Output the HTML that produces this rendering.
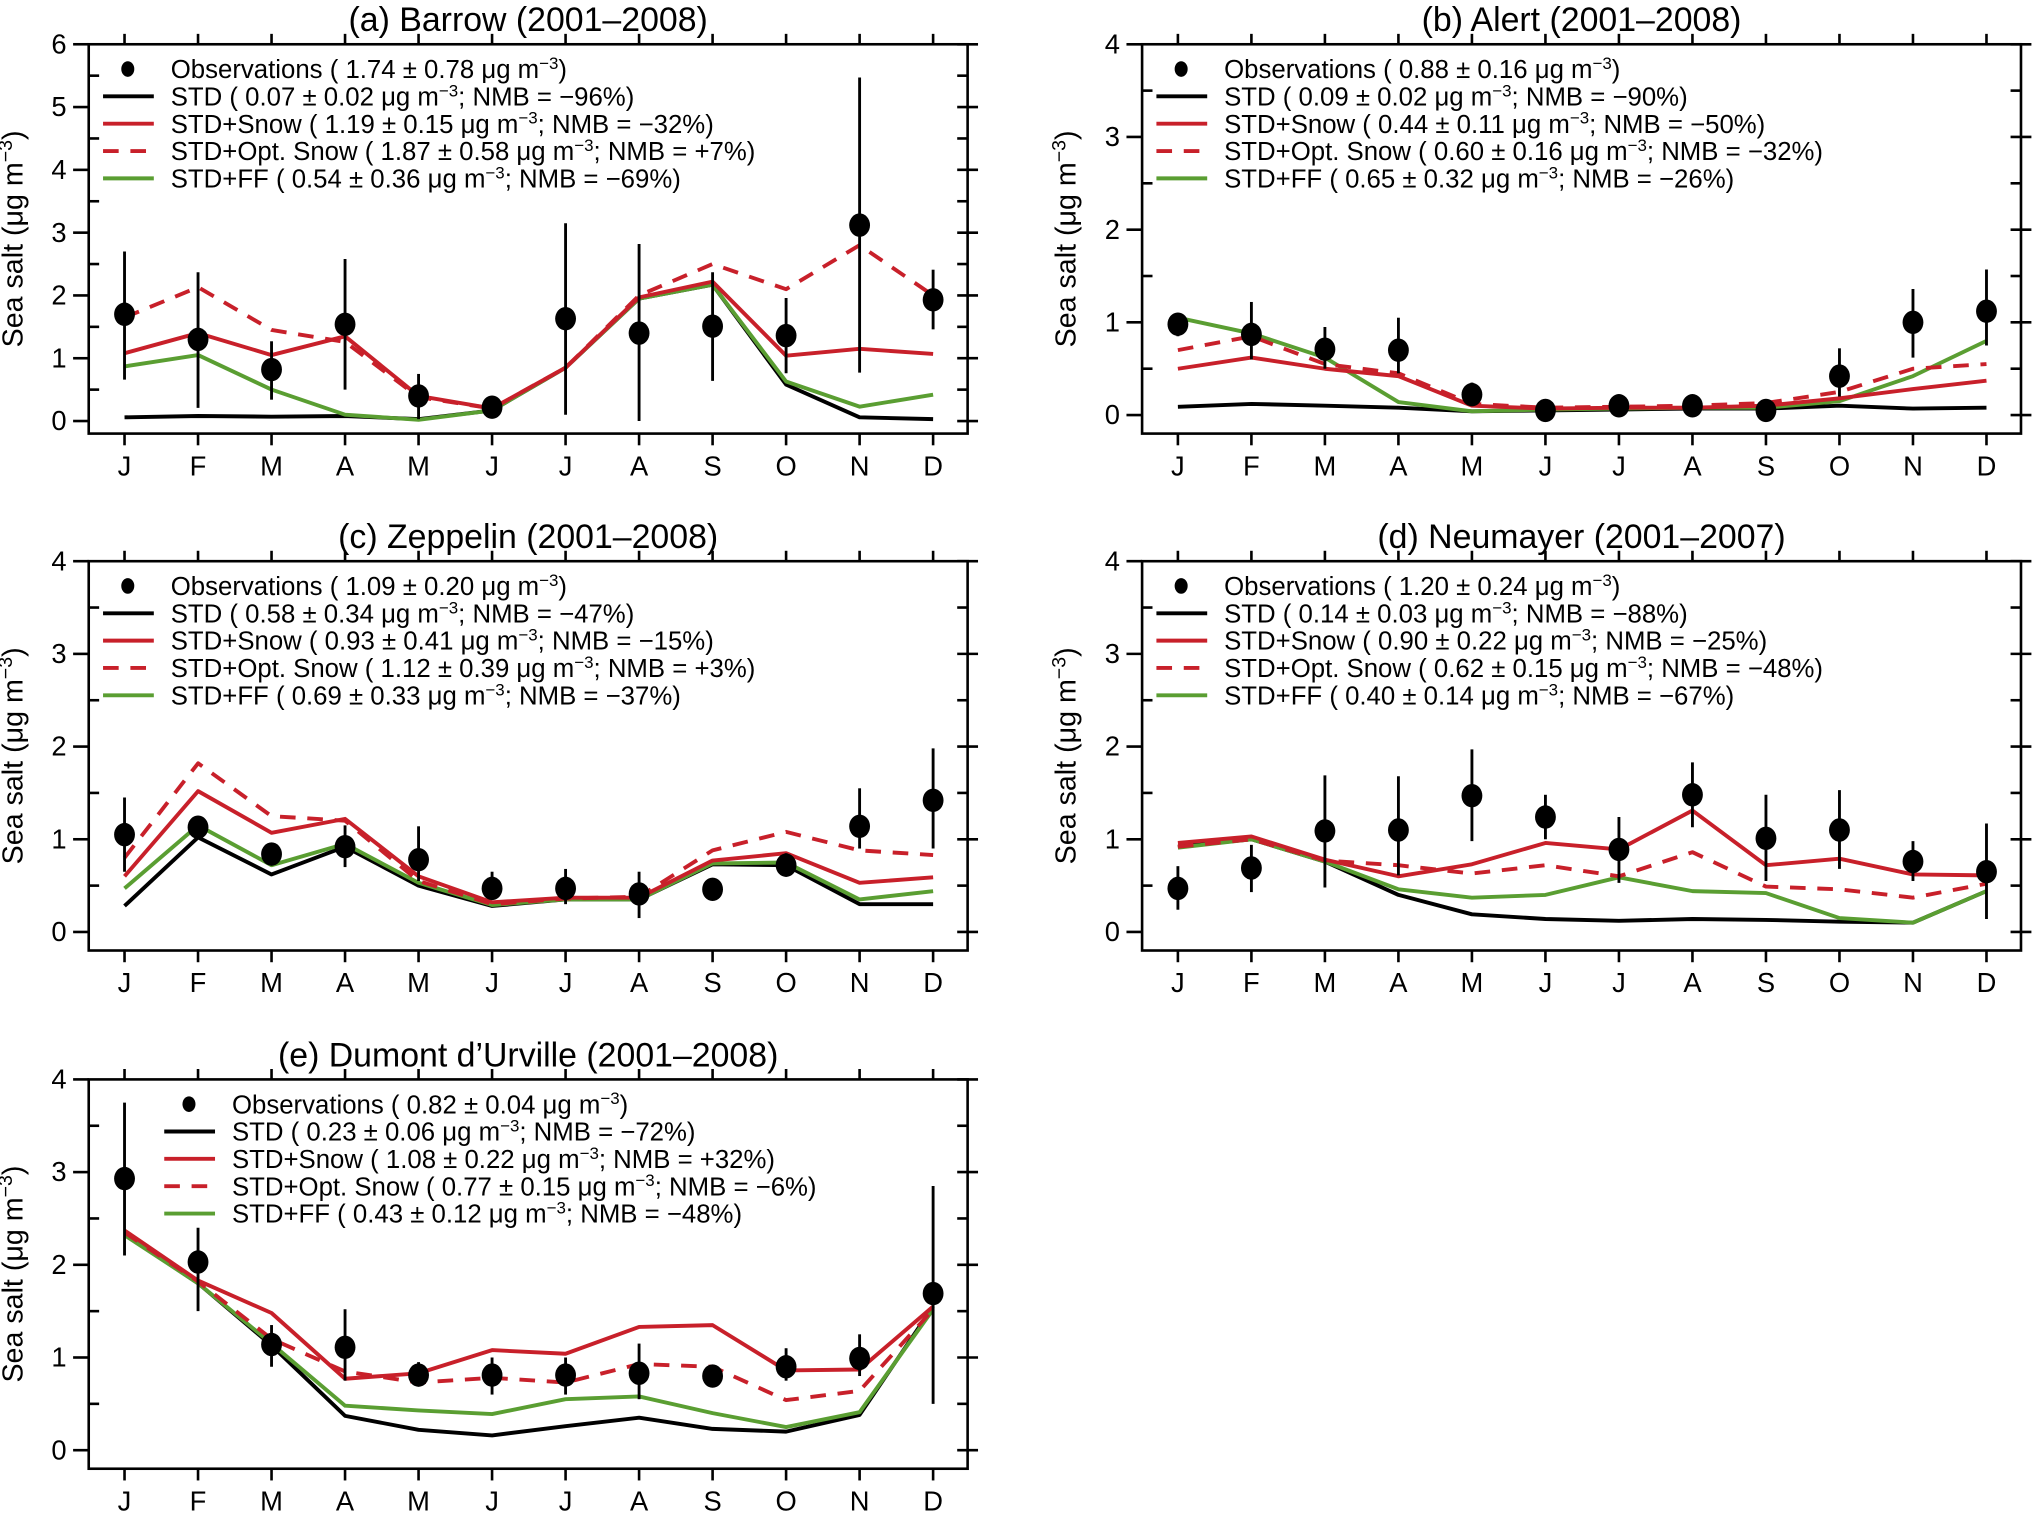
<!DOCTYPE html>
<html><head><meta charset="utf-8">
<style>
html,body{margin:0;padding:0;background:#fff;}
svg{display:block;}
text{font-family:"Liberation Sans",Arial,sans-serif;fill:#000;}
</style></head>
<body>
<svg id="fig" xmlns="http://www.w3.org/2000/svg" width="2042" height="1513" viewBox="0 0 1568 1162"></svg>
<script>
const months = ["J","F","M","A","M","J","J","A","S","O","N","D"];

// Panel (a) Barrow
const aObs = [1.70,1.30,0.82,1.54,0.40,0.22,1.63,1.40,1.51,1.36,3.12,1.93];
const aHi  = [2.70,2.37,1.27,2.58,0.75,0.28,3.15,2.82,2.37,1.96,5.47,2.41];
const aLo  = [0.66,0.21,0.34,0.50,0.03,0.16,0.10,0.00,0.64,0.76,0.77,1.46];
const aStd = [0.06,0.08,0.07,0.08,0.03,0.17,0.85,1.95,2.17,0.58,0.06,0.03];
const aSnow= [1.08,1.40,1.05,1.35,0.40,0.20,0.85,1.97,2.22,1.04,1.15,1.07];
const aOpt = [1.65,2.13,1.45,1.26,0.38,0.20,0.85,2.00,2.50,2.10,2.80,2.00];
const aFF  = [0.87,1.05,0.50,0.10,0.02,0.17,0.85,1.95,2.17,0.63,0.23,0.42];

// Panel (b) Alert
const bObs = [0.98,0.87,0.71,0.70,0.22,0.05,0.10,0.10,0.05,0.42,1.00,1.12];
const bHi  = [1.10,1.22,0.95,1.05,0.35,0.08,0.13,0.13,0.08,0.72,1.36,1.57];
const bLo  = [0.85,0.60,0.50,0.45,0.12,0.02,0.07,0.07,0.02,0.20,0.62,0.75];
const bStd = [0.09,0.12,0.10,0.08,0.04,0.05,0.06,0.07,0.07,0.10,0.07,0.08];
const bSnow= [0.50,0.62,0.50,0.42,0.10,0.07,0.08,0.08,0.10,0.18,0.28,0.37];
const bOpt = [0.70,0.85,0.55,0.45,0.12,0.08,0.09,0.10,0.13,0.25,0.50,0.55];
const bFF  = [1.05,0.88,0.62,0.14,0.04,0.06,0.07,0.08,0.08,0.15,0.42,0.80];

// Panel (c) Zeppelin
const cObs = [1.05,1.13,0.84,0.92,0.78,0.47,0.47,0.41,0.46,0.72,1.14,1.42];
const cHi  = [1.45,1.25,0.95,1.15,1.14,0.65,0.68,0.65,0.46,0.85,1.55,1.98];
const cLo  = [0.65,1.00,0.75,0.70,0.55,0.35,0.30,0.15,0.46,0.60,0.90,0.90];
const cStd = [0.28,1.02,0.62,0.92,0.50,0.28,0.35,0.35,0.73,0.72,0.30,0.30];
const cSnow= [0.60,1.52,1.07,1.22,0.60,0.32,0.37,0.37,0.77,0.85,0.53,0.59];
const cOpt = [0.80,1.82,1.25,1.20,0.55,0.30,0.36,0.38,0.88,1.08,0.88,0.83];
const cFF  = [0.47,1.15,0.72,0.95,0.53,0.29,0.35,0.35,0.74,0.75,0.35,0.44];

// Panel (d) Neumayer
const dObs = [0.47,0.69,1.09,1.10,1.47,1.24,0.89,1.48,1.01,1.10,0.76,0.65];
const dHi  = [0.71,0.94,1.69,1.68,1.97,1.48,1.24,1.83,1.48,1.53,0.98,1.17];
const dLo  = [0.24,0.43,0.48,0.61,0.98,1.00,0.53,1.13,0.55,0.68,0.55,0.14];
const dStd = [0.92,1.00,0.76,0.40,0.19,0.14,0.12,0.14,0.13,0.11,0.10,0.44];
const dSnow= [0.96,1.03,0.78,0.60,0.73,0.96,0.89,1.31,0.72,0.79,0.62,0.61];
const dOpt = [0.92,1.00,0.77,0.72,0.63,0.72,0.60,0.86,0.49,0.46,0.37,0.52];
const dFF  = [0.91,1.00,0.76,0.46,0.37,0.40,0.59,0.44,0.42,0.15,0.10,0.44];

// Panel (e) Dumont d'Urville
const eObs = [2.93,2.03,1.14,1.11,0.81,0.81,0.81,0.83,0.80,0.90,0.99,1.69];
const eHi  = [3.75,2.40,1.35,1.52,0.95,1.00,1.00,1.15,0.90,1.10,1.25,2.85];
const eLo  = [2.10,1.50,0.90,0.75,0.70,0.60,0.60,0.55,0.70,0.75,0.80,0.50];
const eStd = [2.33,1.80,1.13,0.37,0.22,0.16,0.26,0.35,0.23,0.20,0.38,1.55];
const eSnow= [2.37,1.83,1.48,0.77,0.83,1.08,1.04,1.33,1.35,0.86,0.87,1.55];
const eOpt = [2.35,1.82,1.20,0.85,0.73,0.78,0.73,0.93,0.90,0.54,0.64,1.52];
const eFF  = [2.32,1.80,1.15,0.48,0.43,0.39,0.55,0.58,0.40,0.25,0.41,1.52];

const NS = "http://www.w3.org/2000/svg";
const svg = document.getElementById("fig");
const RED = "#c8202a", GREEN = "#5a9e32";

function el(tag, attrs, parent) {
  const e = document.createElementNS(NS, tag);
  for (const k in attrs) e.setAttribute(k, attrs[k]);
  parent.appendChild(e);
  return e;
}
function legText(parent, x, y, pre, post) {
  const t = el("text", {x: x, y: y, "font-size": 19.8}, parent);
  const s1 = document.createElementNS(NS, "tspan"); s1.textContent = pre; t.appendChild(s1);
  const s2 = document.createElementNS(NS, "tspan"); s2.setAttribute("dy", -7); s2.setAttribute("font-size", 13); s2.textContent = "−3"; t.appendChild(s2);
  const s3 = document.createElementNS(NS, "tspan"); s3.setAttribute("dy", 7); s3.textContent = post; t.appendChild(s3);
  return t;
}

function panel(cfg) {
  const g = el("g", {}, svg);
  
  
  const L = cfg.x, R = cfg.x + 675, T = cfg.y, B = cfg.y + 299;
  const ymin = -0.2, ymax = cfg.ymax;
  const ys = v => B - (v - ymin) / (ymax - ymin) * (B - T);
  const x0 = L + 27.5, dx = (621) / 11;
  const xs = i => x0 + i * dx;

  const box = el("rect", {x: L, y: T, width: R - L, height: B - T, fill: "none", stroke: "#000", "stroke-width": 2}, g);
  
  

  const tt = el("text", {x: (L + R) / 2, y: T - 10, "text-anchor": "middle", "font-size": 26}, g);
  tt.textContent = cfg.title;
  
  

  for (let v = 0; v <= ymax + 1e-9; v += 0.5) {
    const y = ys(v), major = Math.abs(v - Math.round(v)) < 1e-9;
    el("line", {x1: L - (major ? 12 : 0), x2: L + (major ? 0 : 8), y1: y, y2: y, stroke: "#000", "stroke-width": 2}, g);
    el("line", {x1: R - 8, x2: R + (major ? 8 : 0), y1: y, y2: y, stroke: "#000", "stroke-width": 2}, g);
    if (major) {
      const tl = el("text", {x: L - 17, y: y + 7, "text-anchor": "end", "font-size": 21}, g);
      tl.textContent = String(v);
      
      
    }
  }
  const yt = el("text", {transform: `translate(${L - 51},${(T + B) / 2}) rotate(-90)`, "text-anchor": "middle", "font-size": 22}, g);
  
  
  const a1 = document.createElementNS(NS, "tspan"); a1.textContent = "Sea salt (μg m"; yt.appendChild(a1);
  const a2 = document.createElementNS(NS, "tspan"); a2.setAttribute("dy", -8); a2.setAttribute("font-size", 15); a2.textContent = "−3"; yt.appendChild(a2);
  const a3 = document.createElementNS(NS, "tspan"); a3.setAttribute("dy", 8); a3.textContent = ")"; yt.appendChild(a3);

  months.forEach((m, i) => {
    const x = xs(i);
    el("line", {x1: x, x2: x, y1: T - 8, y2: T, stroke: "#000", "stroke-width": 2}, g);
    el("line", {x1: x, x2: x, y1: B, y2: B + 9, stroke: "#000", "stroke-width": 2}, g);
    const ml = el("text", {x: x, y: B + 32, "text-anchor": "middle", "font-size": 21}, g);
    ml.textContent = m;
    
    
  });

  const series = [
    {d: cfg.std, c: "#000", dash: null, n: "std-line"},
    {d: cfg.ff, c: GREEN, dash: null, n: "ff-line"},
    {d: cfg.opt, c: RED, dash: "12,9", n: "opt-snow-line"},
    {d: cfg.snow, c: RED, dash: null, n: "snow-line"}
  ];
  series.forEach(s => {
    const pts = s.d.map((v, i) => xs(i).toFixed(1) + "," + ys(v).toFixed(1)).join(" ");
    const p = el("polyline", {points: pts, fill: "none", stroke: s.c, "stroke-width": 3, "stroke-linejoin": "round"}, g);
    if (s.dash) p.setAttribute("stroke-dasharray", s.dash);
    
    
  });

  cfg.obs.forEach((v, i) => {
    const x = xs(i);
    const eb = el("line", {x1: x, x2: x, y1: ys(cfg.hi[i]), y2: ys(cfg.lo[i]), stroke: "#000", "stroke-width": 2.2}, g);
    
    
    const pt = el("ellipse", {cx: x, cy: ys(v), rx: 8, ry: 9, fill: "#000"}, g);
    
    
  });

  const lg = el("g", {}, g);
  
  
  const lx = L + cfg.legOff, tx = lx + 52;
  const y0 = T + 19, sp = 21;
  el("ellipse", {cx: lx + 19, cy: y0, rx: 5, ry: 6, fill: "#000"}, lg);
  const kinds = [
    {c: "#000", dash: null}, {c: RED, dash: null}, {c: RED, dash: "12,9"}, {c: GREEN, dash: null}
  ];
  kinds.forEach((k, j) => {
    const y = y0 + sp * (j + 1);
    const ln = el("line", {x1: lx, x2: lx + 39, y1: y, y2: y, stroke: k.c, "stroke-width": 3}, lg);
    if (k.dash) ln.setAttribute("stroke-dasharray", k.dash);
  });
  cfg.leg.forEach((e, j) => {
    const t = legText(lg, tx, y0 + sp * j + 7, e[0], e[1]);
    
    
  });
}

panel({name: "panel-a-barrow", x: 68, y: 34, ymax: 6, title: "(a) Barrow (2001–2008)", legOff: 11,
  obs: aObs, hi: aHi, lo: aLo, std: aStd, snow: aSnow, opt: aOpt, ff: aFF,
  leg: [["Observations ( 1.74 ± 0.78 μg m", ")"], ["STD ( 0.07 ± 0.02 μg m", "; NMB = −96%)"],
        ["STD+Snow ( 1.19 ± 0.15 μg m", "; NMB = −32%)"], ["STD+Opt. Snow ( 1.87 ± 0.58 μg m", "; NMB = +7%)"],
        ["STD+FF ( 0.54 ± 0.36 μg m", "; NMB = −69%)"]]});
panel({name: "panel-b-alert", x: 877, y: 34, ymax: 4, title: "(b) Alert (2001–2008)", legOff: 11,
  obs: bObs, hi: bHi, lo: bLo, std: bStd, snow: bSnow, opt: bOpt, ff: bFF,
  leg: [["Observations ( 0.88 ± 0.16 μg m", ")"], ["STD ( 0.09 ± 0.02 μg m", "; NMB = −90%)"],
        ["STD+Snow ( 0.44 ± 0.11 μg m", "; NMB = −50%)"], ["STD+Opt. Snow ( 0.60 ± 0.16 μg m", "; NMB = −32%)"],
        ["STD+FF ( 0.65 ± 0.32 μg m", "; NMB = −26%)"]]});
panel({name: "panel-c-zeppelin", x: 68, y: 431, ymax: 4, title: "(c) Zeppelin (2001–2008)", legOff: 11,
  obs: cObs, hi: cHi, lo: cLo, std: cStd, snow: cSnow, opt: cOpt, ff: cFF,
  leg: [["Observations ( 1.09 ± 0.20 μg m", ")"], ["STD ( 0.58 ± 0.34 μg m", "; NMB = −47%)"],
        ["STD+Snow ( 0.93 ± 0.41 μg m", "; NMB = −15%)"], ["STD+Opt. Snow ( 1.12 ± 0.39 μg m", "; NMB = +3%)"],
        ["STD+FF ( 0.69 ± 0.33 μg m", "; NMB = −37%)"]]});
panel({name: "panel-d-neumayer", x: 877, y: 431, ymax: 4, title: "(d) Neumayer (2001–2007)", legOff: 11,
  obs: dObs, hi: dHi, lo: dLo, std: dStd, snow: dSnow, opt: dOpt, ff: dFF,
  leg: [["Observations ( 1.20 ± 0.24 μg m", ")"], ["STD ( 0.14 ± 0.03 μg m", "; NMB = −88%)"],
        ["STD+Snow ( 0.90 ± 0.22 μg m", "; NMB = −25%)"], ["STD+Opt. Snow ( 0.62 ± 0.15 μg m", "; NMB = −48%)"],
        ["STD+FF ( 0.40 ± 0.14 μg m", "; NMB = −67%)"]]});
panel({name: "panel-e-dumont-durville", x: 68, y: 829, ymax: 4, title: "(e) Dumont d’Urville (2001–2008)", legOff: 58,
  obs: eObs, hi: eHi, lo: eLo, std: eStd, snow: eSnow, opt: eOpt, ff: eFF,
  leg: [["Observations ( 0.82 ± 0.04 μg m", ")"], ["STD ( 0.23 ± 0.06 μg m", "; NMB = −72%)"],
        ["STD+Snow ( 1.08 ± 0.22 μg m", "; NMB = +32%)"], ["STD+Opt. Snow ( 0.77 ± 0.15 μg m", "; NMB = −6%)"],
        ["STD+FF ( 0.43 ± 0.12 μg m", "; NMB = −48%)"]]});
</script>
</body></html>
